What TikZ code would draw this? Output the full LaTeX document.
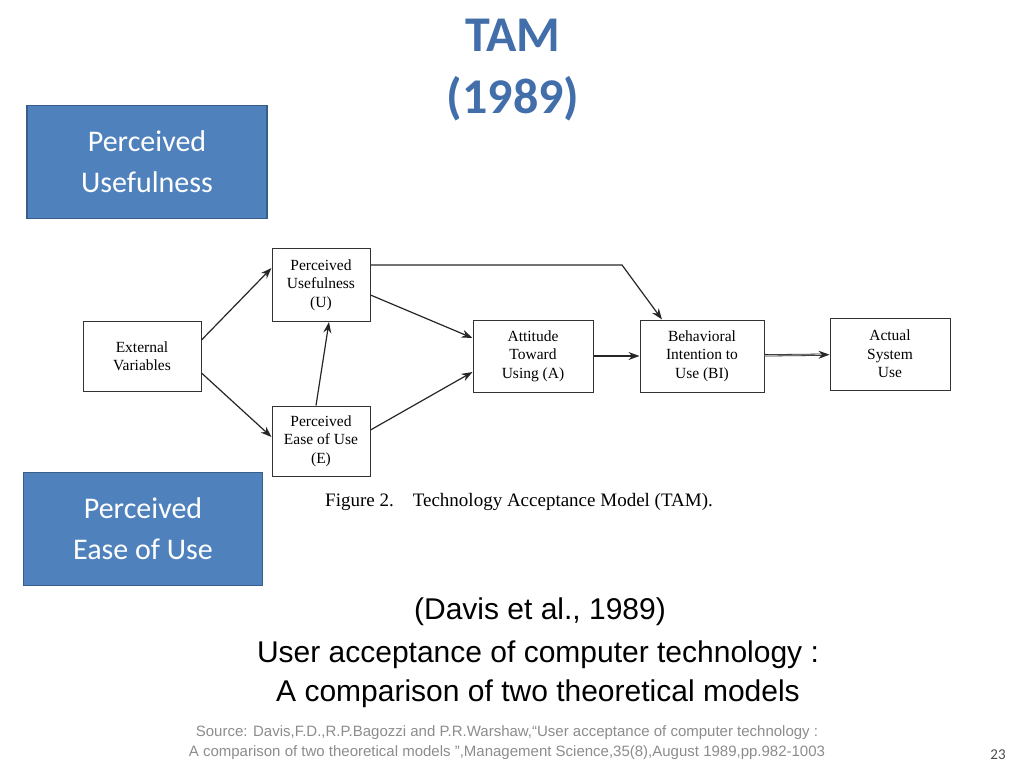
\documentclass[tikz,border=0pt]{standalone}
\usepackage{fontspec}
\setmainfont{Liberation Serif}
\newfontfamily\calib{Carlito}
\newfontfamily\arial{Liberation Sans}
\usetikzlibrary{arrows.meta}
\definecolor{boxblue}{RGB}{79,129,189}
\definecolor{boxedge}{RGB}{56,93,138}
\definecolor{titleblue}{RGB}{66,110,170}
\begin{document}
\begin{tikzpicture}[x=1pt,y=-1pt,
 bluebox/.style={draw=boxedge,line width=1.5pt,fill=boxblue,text=white,font=\calib\fontsize{30}{41}\selectfont,align=center,inner sep=0pt},
 tam/.style={draw=black!80,line width=1pt,fill=white,align=center,font=\fontsize{15.5}{18.5}\selectfont,inner sep=0pt},
 arr/.style={-{Stealth[length=11pt,width=8pt]},line width=1.2pt,black!85},
 big/.style={font=\arial\fontsize{30}{34}\selectfont}]
\useasboundingbox (0,0) rectangle (1024,768);
\node[font=\calib\bfseries\fontsize{50}{62}\selectfont,text=titleblue,align=center] (title) at (513,70) {TAM\\(1989)};
\node[bluebox,minimum width=240pt,minimum height=113pt] (bpu) at (147,162) {Perceived\\Usefulness};
\node[bluebox,minimum width=239pt,minimum height=113pt] (bpe) at (143,529) {Perceived\\Ease of Use};
\node[tam,minimum width=118pt,minimum height=70pt] (ev) at (142,356) {External\\Variables};
\node[tam,minimum width=98pt,minimum height=73pt] (pu) at (321,285) {Perceived\\Usefulness\\(U)};
\node[tam,minimum width=98pt,minimum height=70pt] (pe) at (321,441) {Perceived\\Ease of Use\\(E)};
\node[tam,minimum width=120pt,minimum height=72pt] (at) at (533,356) {Attitude\\Toward\\Using (A)};
\node[tam,minimum width=124pt,minimum height=72pt] (bi) at (702,356) {Behavioral\\Intention to\\Use (BI)};
\node[tam,minimum width=120pt,minimum height=72pt] (ac) at (890,354) {Actual\\System\\Use};
\node[font=\fontsize{19}{22}\selectfont] (cap) at (519,502) {\textsc{Figure} 2.\quad Technology Acceptance Model (TAM).};
\draw[arr] (ev.east|-0,340) -- (pu.west|-0,268);
\draw[arr] (ev.east|-0,373) -- (pe.west|-0,437);
\draw[arr] (pe.north) ++(-5,0) -- ([xshift=8pt]pu.south);
\draw[arr] (pu.east|-0,295) -- (at.west|-0,338);
\draw[arr] (pe.east|-0,430) -- (at.west|-0,372);
\draw[arr] (at) -- (bi);
\draw[arr,double,line width=0.8pt] (bi) -- (ac);
\coordinate (bend) at (622,265);
\draw[arr] (pu.east|-0,265) -- (bend) -- (bi.north-|662,0);
\node[big] (c1) at (540,612) {(Davis et al., 1989)};
\node[big] (c2) at (538,655) {User acceptance of computer technology :};
\node[big] (c3) at (538,694) {A comparison of two theoretical models};
\node[font=\arial\fontsize{15}{20}\selectfont,text=black!45,align=center] (src) at (507,743) {Source: Davis,F.D.,R.P.Bagozzi and P.R.Warshaw,“User acceptance of computer technology :\\A comparison of two theoretical models ”,Management Science,35(8),August 1989,pp.982-1003};
\node[font=\calib\fontsize{15}{18}\selectfont,text=black!70] (pg) at (998,755) {23};
\end{tikzpicture}
\end{document}
